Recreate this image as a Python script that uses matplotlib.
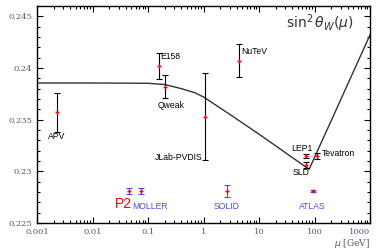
import matplotlib
matplotlib.use("Agg")
import matplotlib.pyplot as plt
from matplotlib.ticker import MultipleLocator, LogLocator, NullFormatter

# running weak mixing angle (theory curve)
curve_mu = [0.001, 0.01, 0.1, 0.2, 0.4, 0.7, 1.0, 3.0, 10.0, 30.0, 80.0, 200.0, 1000.0]
curve_s2w = [0.23855, 0.23855, 0.23852, 0.2384, 0.2380, 0.2376, 0.2372, 0.2355, 0.2336, 0.2318, 0.2302, 0.2349, 0.2432]

# measurements
meas_names = ["APV", "E158", "Qweak", "NuTeV", "JLab-PVDIS", "LEP1", "SLD", "Tevatron"]
meas_mu = [0.0023, 0.16, 0.2, 4.4, 1.07, 71.0, 71.0, 113.0]
meas_s2w = [0.2357, 0.2402, 0.2382, 0.2407, 0.2353, 0.23146, 0.2306, 0.2315]
meas_err = [0.0019, 0.0013, 0.0011, 0.0016, 0.0042, 0.0002, 0.0003, 0.0003]

# future experiments
fut_names = ["P2", "MOLLER", "SOLID", "ATLAS"]
fut_mu = [0.046, 0.074, 2.6, 93.0]
fut_s2w = [0.2281, 0.2281, 0.2281, 0.2281]
fut_err = [0.0003, 0.0003, 0.0006, 0.0001]

fig = plt.figure(figsize=(3.79, 2.49), dpi=100)
ax = fig.add_axes([37 / 379, 1 - 223 / 249, 333 / 379, 217 / 249])

ax.plot(curve_mu, curve_s2w, color="#333333", lw=1.0)

ax.errorbar(meas_mu, meas_s2w, yerr=meas_err, fmt="none", ecolor="black",
            elinewidth=0.8, capsize=2.5, capthick=0.8)
ax.plot(meas_mu, meas_s2w, "+", color="red", ms=3, mew=1)

blue = "#4a4aff"
ax.errorbar(fut_mu, fut_s2w, yerr=fut_err, fmt="none", ecolor=blue,
            elinewidth=0.8, capsize=2.5, capthick=0.8)
ax.plot(fut_mu, fut_s2w, "+", color="red", ms=3, mew=1)

ax.set_xscale("log")
ax.set_xlim(0.001, 1000)
ax.set_ylim(0.225, 0.246)

sans = "Liberation Sans"
fs = 6.2
ax.text(0.0023, 0.2334, "APV", ha="center", va="center", fontsize=fs, family=sans)
ax.text(0.168, 0.2411, "E158", ha="left", va="center", fontsize=fs, family=sans)
ax.text(0.26, 0.2364, "Qweak", ha="center", va="center", fontsize=fs, family=sans)
ax.text(4.7, 0.2416, "NuTeV", ha="left", va="center", fontsize=fs, family=sans)
ax.text(0.98, 0.2313, "JLab-PVDIS", ha="right", va="center", fontsize=fs, family=sans)
ax.text(60, 0.2322, "LEP1", ha="center", va="center", fontsize=fs, family=sans)
ax.text(57, 0.2299, "SLD", ha="center", va="center", fontsize=fs, family=sans)
ax.text(135, 0.2317, "Tevatron", ha="left", va="center", fontsize=fs, family=sans)

ax.text(0.036, 0.2268, "P2", ha="center", va="center", fontsize=10, color="red", family=sans)
ax.text(0.108, 0.2266, "MOLLER", ha="center", va="center", fontsize=fs, color=blue, family=sans)
ax.text(2.6, 0.2266, "SOLID", ha="center", va="center", fontsize=fs, color=blue, family=sans)
ax.text(93, 0.2266, "ATLAS", ha="center", va="center", fontsize=fs, color=blue, family=sans)

ax.text(0.95, 0.92, r"$\mathrm{sin}^2\,\theta_W(\mu)$", transform=ax.transAxes,
        ha="right", va="center", fontsize=10, color="#333333")

ax.set_yticks([0.225, 0.23, 0.235, 0.24, 0.245])
ax.set_yticklabels(["0.225", "0.23", "0.235", "0.24", "0.245"])
ax.yaxis.set_minor_locator(MultipleLocator(0.001))
ax.set_xticks([0.001, 0.01, 0.1, 1, 10, 100, 1000])
ax.set_xticklabels(["0.001", "0.01", "0.1", "1", "10", "100", "1000"])
ax.xaxis.set_minor_locator(LogLocator(base=10, subs=range(2, 10), numticks=20))
ax.xaxis.set_minor_formatter(NullFormatter())

ax.tick_params(which="both", direction="in", top=True, right=True, labelsize=6,
               labelcolor="#555577", width=0.8)
ax.tick_params(which="major", length=4)
ax.tick_params(which="minor", length=2)
for lab in ax.get_xticklabels() + ax.get_yticklabels():
    lab.set_family("DejaVu Serif")
ax.get_xticklabels()[-1].set_horizontalalignment("right")
ax.get_xticklabels()[-1].set_x(1000)
for sp in ax.spines.values():
    sp.set_linewidth(1.0)

fig.text(370 / 379, 1 - 243 / 249, r"$\mu$ [GeV]", ha="right", va="center",
         fontsize=6.5, color="#555577", family="DejaVu Serif")

fig.savefig("out.png", dpi=100)
